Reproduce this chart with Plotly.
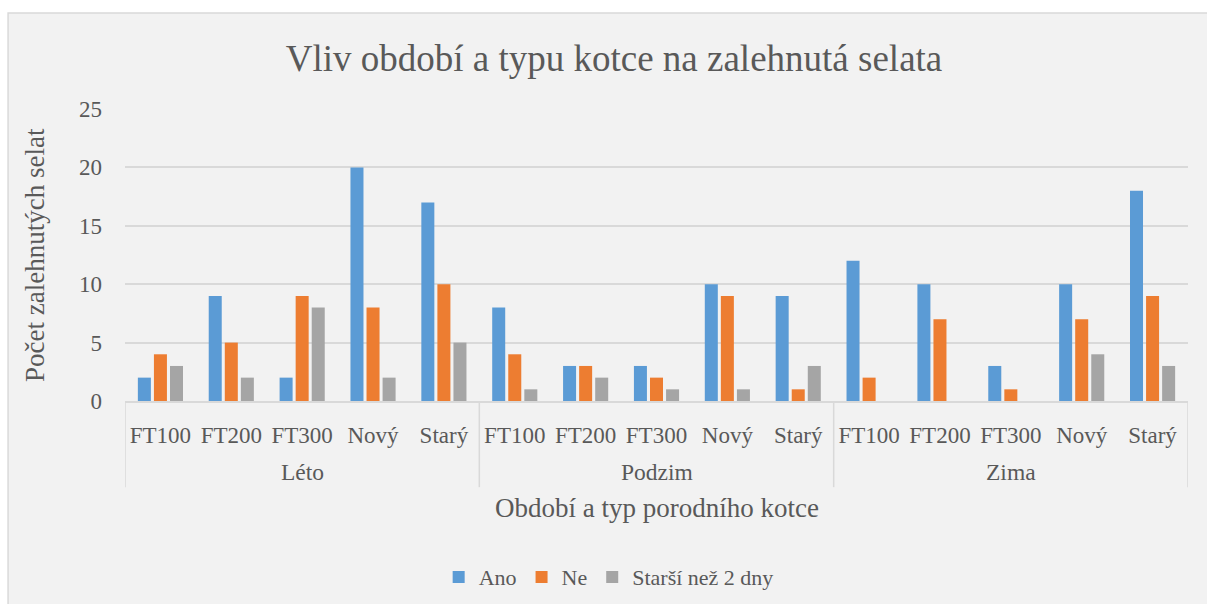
import plotly.graph_objects as go

# Data
seasons = ["Léto", "Podzim", "Zima"]
pens = ["FT100", "FT200", "FT300", "Nový", "Starý"]

ano = [2, 9, 2, 20, 17, 8, 3, 3, 10, 9, 12, 10, 3, 10, 18]
ne = [4, 5, 9, 8, 10, 4, 3, 2, 9, 1, 2, 7, 1, 7, 9]
starsi = [3, 2, 8, 2, 5, 1, 2, 1, 1, 3, 0, 0, 0, 4, 3]

series = [
    ("Ano", ano, "#5b9bd5"),
    ("Ne", ne, "#ed7d31"),
    ("Starší než 2 dny", starsi, "#a5a5a5"),
]

FONT = "'Liberation Serif', 'Times New Roman', serif"
GREY = "#595959"
LINE = "#d9d9d9"

n_pens = len(pens)
xpos = list(range(len(seasons) * n_pens))
xlabels = pens * len(seasons)

fig = go.Figure()
for name, vals, color in series:
    fig.add_trace(go.Bar(
        x=xpos, y=vals, name=name,
        marker=dict(color=color, line=dict(width=0)),
    ))

# season labels and divider lines under the category axis
annotations = []
shapes = [dict(type="rect", xref="paper", yref="paper", layer="below",
               x0=-0.110, x1=1.2, y0=-0.9, y1=1.329,
               fillcolor="#f2f2f2", line=dict(color=LINE, width=1.5))]
for i, s in enumerate(seasons):
    annotations.append(dict(
        x=i * n_pens + (n_pens - 1) / 2, xref="x", y=-0.243, yref="paper",
        text=s, showarrow=False, xanchor="center", yanchor="middle",
        font=dict(size=23.5, color=GREY),
    ))
for i in range(len(seasons) + 1):
    shapes.append(dict(
        type="line", xref="x", yref="paper",
        x0=i * n_pens - 0.5, x1=i * n_pens - 0.5, y0=0, y1=-0.295,
        line=dict(color=LINE, width=1.5),
    ))
annotations.append(dict(
    x=-0.0847, xref="paper", y=0.5, yref="paper", textangle=-90,
    text="Počet zalehnutých selat", showarrow=False,
    xanchor="center", yanchor="middle", font=dict(size=27, color=GREY),
))
annotations.append(dict(
    x=0.5, xref="paper", y=-0.366, yref="paper",
    text="Období a typ porodního kotce", showarrow=False,
    xanchor="center", yanchor="middle", font=dict(size=27, color=GREY),
))

fig.update_layout(
    width=1207, height=604,
    barmode="group", bargap=0.32, bargroupgap=0.19,
    paper_bgcolor="white", plot_bgcolor="rgba(0,0,0,0)",
    margin=dict(l=125, r=19, t=109, b=203, autoexpand=False),
    font=dict(family=FONT, color=GREY, size=23),
    title=dict(text="Vliv období a typu kotce na zalehnutá selata",
               x=0.5087, xanchor="center", y=0.904, yanchor="middle",
               font=dict(size=37, color=GREY)),
    legend=dict(orientation="h", x=0.455, xanchor="center", y=-0.603, yanchor="middle",
                font=dict(size=22), traceorder="normal", bgcolor="rgba(0,0,0,0)",
                itemwidth=30),
    shapes=shapes,
    annotations=annotations,
)

fig.update_yaxes(
    range=[0, 25], dtick=5, showgrid=True, gridcolor=LINE, gridwidth=1.5,
    zeroline=False, showline=False, ticks="", ticklabelstandoff=22,
    tickfont=dict(size=23),
)
fig.update_xaxes(
    range=[-0.5, len(xpos) - 0.5], tickmode="array", tickvals=xpos, ticktext=xlabels,
    showline=True, linecolor=LINE, linewidth=1.5, showgrid=False, zeroline=False,
    tickfont=dict(size=23), ticks="", tickangle=0, ticklabelstandoff=13,
)

fig.write_html("out.html", config={"displayModeBar": False},
               post_script="document.body.style.margin='0';")
